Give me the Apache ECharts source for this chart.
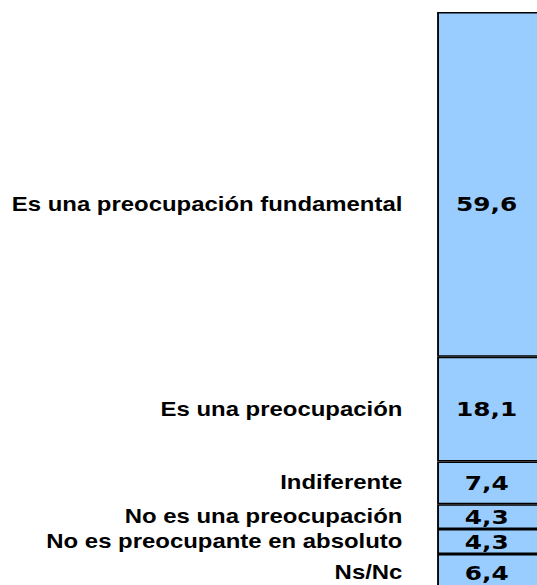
<!DOCTYPE html>
<html>
<head>
<meta charset="utf-8">
<script src="https://cdn.jsdelivr.net/npm/echarts@6/dist/echarts.min.js"></script>
<style>
  html, body { margin: 0; padding: 0; background: #fff; overflow: hidden; }
  /* the source picture is stretched sideways, so the chart is too */
  #chart { width: 433px; height: 585px; transform: scaleX(1.24); transform-origin: 0 0; }
</style>
</head>
<body>
<div id="chart"></div>
<script>
var categories = [
  "Es una preocupación fundamental",
  "Es una preocupación",
  "Indiferente",
  "No es una preocupación",
  "No es preocupante en absoluto",
  "Ns/Nc"
];
var values = [59.6, 18.1, 7.4, 4.3, 4.3, 6.4];

var total = values.reduce(function (a, b) { return a + b; }, 0);

var valueSeries = categories.map(function (name, i) {
  return {
    name: name,
    type: "bar",
    stack: "values",
    barWidth: "100%",
    barGap: "-100%",
    data: [values[i]],
    itemStyle: { color: "#99ccff", borderColor: "#000", borderWidth: 1.5 },
    label: {
      show: true,
      position: "inside",
      offset: i === 0 ? [-3, 20] : [-3, 0],
      formatter: function (p) { return String(p.value).replace(".", ","); },
      fontFamily: "DejaVu Sans",
      fontWeight: "bold",
      fontSize: 20,
      color: "#000"
    },
    silent: true
  };
});

// transparent twin stack that only carries the category names on the left
var nameSeries = categories.map(function (name, i) {
  return {
    name: name + " ",
    type: "bar",
    stack: "names",
    barWidth: "100%",
    barGap: "-100%",
    data: [values[i]],
    itemStyle: { color: "transparent" },
    label: {
      show: true,
      position: "left",
      distance: 28,
      offset: i === 0 ? [0, 20] : [0, 0],
      formatter: name,
      fontFamily: "Liberation Sans",
      fontWeight: "bold",
      fontSize: 19.3,
      color: "#000"
    },
    silent: true
  };
});

var chart = echarts.init(document.getElementById("chart"), null, { renderer: "svg" });
chart.setOption({
  animation: false,
  grid: { left: 352.5, width: 86, top: 12, height: 579, outerBoundsMode: "none" },
  xAxis: {
    type: "category",
    data: [""],
    show: false
  },
  yAxis: {
    type: "value",
    inverse: true,
    min: 0,
    max: total,
    show: false
  },
  series: valueSeries.concat(nameSeries)
});
</script>
</body>
</html>
